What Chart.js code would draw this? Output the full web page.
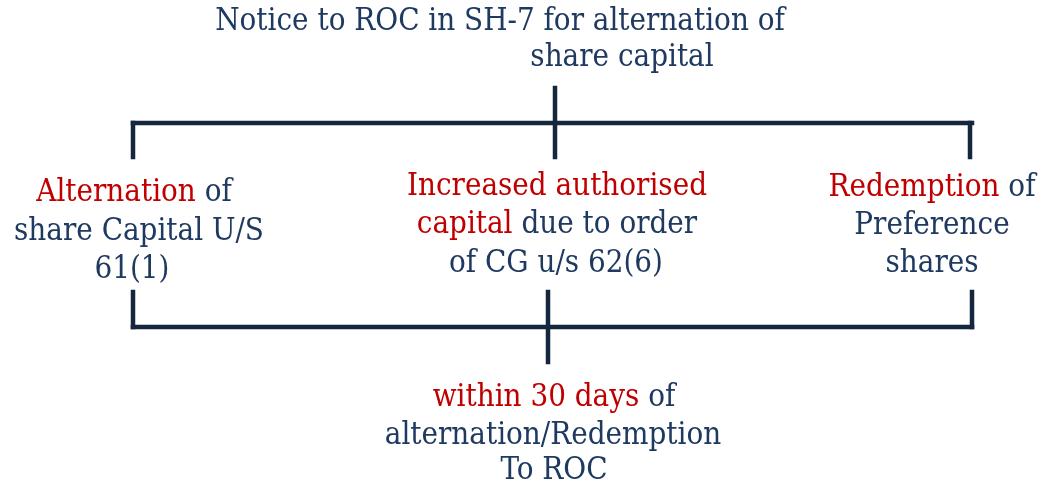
<!DOCTYPE html>
<html>
<head>
<meta charset="utf-8">
<script src="https://cdn.jsdelivr.net/npm/chart.js@4.4.1/dist/chart.umd.min.js"></script>
<style>
html,body{margin:0;padding:0;background:#ffffff;}
#wrap{width:1042px;height:489px;}
</style>
</head>
<body>
<div id="wrap"><canvas id="c" width="1042" height="489"></canvas></div>
<script>
// ---- diagram content ----
// text blocks: each line is a list of [text, highlighted?]
const titleLines = [
  [["Notice to ROC in SH-7 for alternation of", false]],
  [["share capital", false]]
];
const leftLines = [
  [["Alternation", true], [" of", false]],
  [["share Capital U/S", false]],
  [["61(1)", false]]
];
const middleLines = [
  [["Increased authorised", true]],
  [["capital", true], [" due to order", false]],
  [["of CG u/s 62(6)", false]]
];
const rightLines = [
  [["Redemption", true], [" of", false]],
  [["Preference", false]],
  [["shares", false]]
];
const bottomLines = [
  [["within 30 days", true], [" of", false]],
  [["alternation/Redemption", false]],
  [["To ROC", false]]
];
// anchor points of the text lines (diagram units = pixels of the 1042x489 frame)
const titleX = [500, 622];
const titleY = [22, 58];
const leftX = [134, 139, 132];
const leftY = [193, 232, 270];
const middleX = [557, 557, 556];
const middleY = [187, 225, 264];
const rightX = [932, 932, 932];
const rightY = [188, 226, 264];
const bottomX = [554, 553, 554];
const bottomY = [398, 436, 471];

// connector segments: [x1, y1, x2, y2]
const topBracket = [
  [555, 88, 555, 157],
  [133, 123, 972, 123],
  [133, 123, 133, 157],
  [970, 123, 970, 157]
];
const bottomBracket = [
  [133, 292, 133, 327],
  [133, 327, 972, 327],
  [972, 292, 972, 327],
  [548, 292, 548, 362]
];

// ---- styles ----
const NAVY = '#1f3a60';
const RED = '#c00000';
const LINE = '#15273f';
const FONT = "31px 'DejaVu Serif Condensed', 'DejaVu Serif', serif";

const segDatasets = topBracket.concat(bottomBracket).map(s => ({
  data: [{x: s[0], y: s[1]}, {x: s[2], y: s[3]}],
  showLine: true,
  borderColor: LINE,
  borderWidth: 4.5,
  borderCapStyle: 'square',
  pointRadius: 0,
  fill: false
}));

const blocks = [
  [titleLines, titleX, titleY],
  [leftLines, leftX, leftY],
  [middleLines, middleX, middleY],
  [rightLines, rightX, rightY],
  [bottomLines, bottomX, bottomY]
];

const textPlugin = {
  id: 'diagramText',
  afterDatasetsDraw(chart) {
    const ctx = chart.ctx;
    const xs = chart.scales.x, ys = chart.scales.y;
    ctx.save();
    ctx.font = FONT;
    ctx.textBaseline = 'middle';
    ctx.textAlign = 'left';
    blocks.forEach(([lines, bx, by]) => {
      lines.forEach((line, i) => {
        const total = line.reduce((w, p) => w + ctx.measureText(p[0]).width, 0);
        let px = xs.getPixelForValue(bx[i]) - total / 2;
        const py = ys.getPixelForValue(by[i]);
        line.forEach(p => {
          ctx.fillStyle = p[1] ? RED : NAVY;
          ctx.fillText(p[0], px, py);
          px += ctx.measureText(p[0]).width;
        });
      });
    });
    ctx.restore();
  }
};

new Chart(document.getElementById('c'), {
  type: 'scatter',
  data: { datasets: segDatasets },
  options: {
    responsive: false,
    devicePixelRatio: 1,
    animation: false,
    layout: { padding: 0 },
    plugins: { legend: { display: false }, tooltip: { enabled: false } },
    scales: {
      x: { type: 'linear', min: 0, max: 1042, display: false },
      y: { type: 'linear', min: 0, max: 489, reverse: true, display: false }
    }
  },
  plugins: [textPlugin]
});
</script>
</body>
</html>
